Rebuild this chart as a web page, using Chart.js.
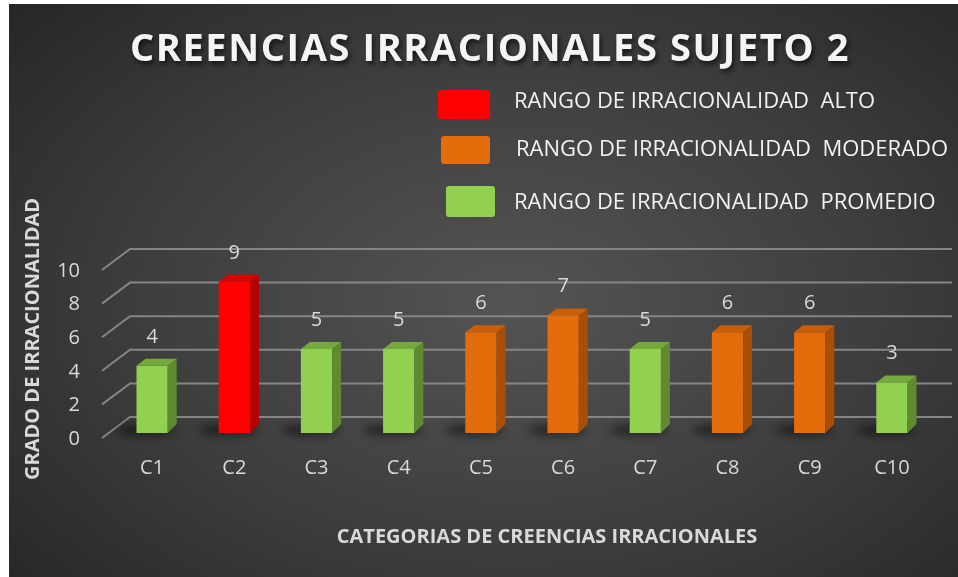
<!DOCTYPE html>
<html>
<head>
<meta charset="utf-8">
<script src="https://cdn.jsdelivr.net/npm/chart.js@4.4.1/dist/chart.umd.min.js"></script>
<style>
  body { margin: 0; background: #fff; }
  #wrap {
    position: absolute; left: 9px; top: 4px; width: 949px; height: 573px;
    background: radial-gradient(ellipse 72% 78% at 53% 52%, #545454 0%, #3d3d3d 55%, #262626 100%);
  }
</style>
</head>
<body>
<div id="wrap"><canvas id="myChart" width="949" height="573"></canvas></div>
<script>
const categories = ['C1', 'C2', 'C3', 'C4', 'C5', 'C6', 'C7', 'C8', 'C9', 'C10'];
const values = [4, 9, 5, 5, 6, 7, 5, 6, 6, 3];
const levels = ['PROMEDIO', 'ALTO', 'PROMEDIO', 'PROMEDIO', 'MODERADO', 'MODERADO', 'PROMEDIO', 'MODERADO', 'MODERADO', 'PROMEDIO'];
const yTicks = [0, 2, 4, 6, 8, 10];
const legendLevels = ['ALTO', 'MODERADO', 'PROMEDIO'];
const legendLabels = ['RANGO DE IRRACIONALIDAD  ALTO', 'RANGO DE IRRACIONALIDAD  MODERADO', 'RANGO DE IRRACIONALIDAD  PROMEDIO'];

const chartTitle = 'CREENCIAS IRRACIONALES SUJETO 2';
const xTitle = 'CATEGORIAS DE CREENCIAS IRRACIONALES';
const yTitle = 'GRADO DE IRRACIONALIDAD';

const FONT = "'Open Sans', sans-serif";
const TEXT = '#d9d9d9';

const frontColors = { ALTO: '#ff0000', MODERADO: '#e46c0a', PROMEDIO: '#92d050' };
const sideColors = { ALTO: '#b30000', MODERADO: '#a84f07', PROMEDIO: '#5f8a30' };
const topColors = { ALTO: '#d90000', MODERADO: '#c85e08', PROMEDIO: '#76a83e' };

// depth of the fake 3d
const dx = 9, dy = 7;

const grid3d = {
  id: 'grid3d',
  beforeDatasetsDraw(chart) {
    const ctx = chart.ctx;
    const y = chart.scales.y;
    const left = chart.chartArea.left;
    ctx.save();
    ctx.strokeStyle = '#858585';
    ctx.lineWidth = 2;
    yTicks.forEach(function (v) {
      const py = y.getPixelForValue(v);
      ctx.beginPath();
      ctx.moveTo(left - 9, py + 5);
      ctx.lineTo(left + 19, py - 16);
      ctx.lineTo(chart.width - 6, py - 16);
      ctx.stroke();
    });
    // soft shadows at the foot of the bars
    const meta = chart.getDatasetMeta(0);
    ctx.filter = 'blur(4px)';
    ctx.fillStyle = 'rgba(0,0,0,0.45)';
    meta.data.forEach(function (bar) {
      const p = bar.getProps(['x', 'base', 'width'], true);
      ctx.beginPath();
      ctx.ellipse(p.x - 6, p.base - 3, p.width * 0.95, 6, 0, 0, Math.PI * 2);
      ctx.fill();
    });
    ctx.restore();
  }
};

const bars3d = {
  id: 'bars3d',
  afterDatasetsDraw(chart) {
    const ctx = chart.ctx;
    const meta = chart.getDatasetMeta(0);
    ctx.save();
    meta.data.forEach(function (bar, i) {
      const p = bar.getProps(['x', 'y', 'base', 'width'], true);
      const l = p.x - p.width / 2, r = p.x + p.width / 2;
      const lvl = levels[i];
      // side face
      ctx.fillStyle = sideColors[lvl];
      ctx.beginPath();
      ctx.moveTo(r, p.y);
      ctx.lineTo(r + dx, p.y - dy);
      ctx.lineTo(r + dx, p.base - dy - 2);
      ctx.lineTo(r, p.base);
      ctx.closePath();
      ctx.fill();
      // top face
      ctx.fillStyle = topColors[lvl];
      ctx.beginPath();
      ctx.moveTo(l, p.y);
      ctx.lineTo(l + dx, p.y - dy);
      ctx.lineTo(r + dx, p.y - dy);
      ctx.lineTo(r, p.y);
      ctx.closePath();
      ctx.fill();
      // value label
      ctx.fillStyle = TEXT;
      ctx.font = '20px ' + FONT;
      ctx.textAlign = 'center';
      ctx.textBaseline = 'middle';
      ctx.fillText(String(values[i]), p.x, p.y - 29);
    });
    ctx.restore();
  }
};

// titles sit off-centre in the original, so they are placed by hand
const titles = {
  id: 'titles',
  afterDraw(chart) {
    const ctx = chart.ctx;
    ctx.save();
    ctx.textAlign = 'center';
    ctx.textBaseline = 'middle';

    ctx.shadowColor = 'rgba(0,0,0,0.65)';
    ctx.shadowBlur = 5;
    ctx.shadowOffsetX = 2;
    ctx.shadowOffsetY = 3;
    ctx.fillStyle = '#f5f5f5';
    ctx.font = 'bold 38px ' + FONT;
    ctx.letterSpacing = '1.6px';
    ctx.fillText(chartTitle, 481, 46);

    ctx.shadowColor = 'transparent';
    ctx.letterSpacing = '0px';
    ctx.fillStyle = TEXT;
    ctx.font = 'bold 20px ' + FONT;
    ctx.fillText(xTitle, 538, 533);

    ctx.translate(24, 335);
    ctx.rotate(-Math.PI / 2);
    ctx.fillText(yTitle, 0, 0);
    ctx.restore();
  }
};

const legendBoxes = {
  id: 'legendBoxes',
  afterDraw(chart) {
    const ctx = chart.ctx;
    // box position for each legend row
    const rows = [
      { x: 429, y: 86, w: 52, h: 29, tx: 505, ty: 98 },
      { x: 432, y: 132, w: 49, h: 28, tx: 507, ty: 146 },
      { x: 437, y: 182, w: 49, h: 31, tx: 505, ty: 199 }
    ];
    ctx.save();
    rows.forEach(function (r, i) {
      ctx.fillStyle = frontColors[legendLevels[i]];
      ctx.beginPath();
      ctx.roundRect(r.x, r.y, r.w, r.h, 3);
      ctx.fill();
      ctx.fillStyle = '#f2f2f2';
      ctx.font = '22px ' + FONT;
      ctx.textAlign = 'left';
      ctx.textBaseline = 'middle';
      ctx.fillText(legendLabels[i], r.tx, r.ty);
    });
    ctx.restore();
  }
};

const data = {
  labels: categories,
  datasets: [{
    label: yTitle,
    data: values,
    backgroundColor: levels.map(function (l) { return frontColors[l]; }),
    borderWidth: 0,
    barPercentage: 0.38,
    categoryPercentage: 1
  }]
};

const config = {
  type: 'bar',
  data: data,
  options: {
    responsive: false,
    animation: false,
    layout: { padding: { top: 261, right: 25 } },
    plugins: {
      legend: { display: false },
      tooltip: { enabled: false },
      title: { display: false }
    },
    scales: {
      x: {
        grid: { display: false, drawTicks: false },
        border: { display: false },
        ticks: { color: TEXT, font: { family: FONT, size: 20 }, padding: 23 },
        afterFit(s) { s.height = 144; }
      },
      y: {
        min: 0, max: 10,
        grid: { display: false, drawTicks: false },
        border: { display: false },
        ticks: { stepSize: 2, color: TEXT, font: { family: FONT, size: 20 }, padding: 31, labelOffset: 6 },
        afterBuildTicks(s) { s.ticks = yTicks.map(function (v) { return { value: v }; }); },
        afterFit(s) { s.width = 102; }
      }
    }
  },
  plugins: [grid3d, bars3d, titles, legendBoxes]
};

const myChart = new Chart(document.getElementById('myChart'), config);
</script>
</body>
</html>
